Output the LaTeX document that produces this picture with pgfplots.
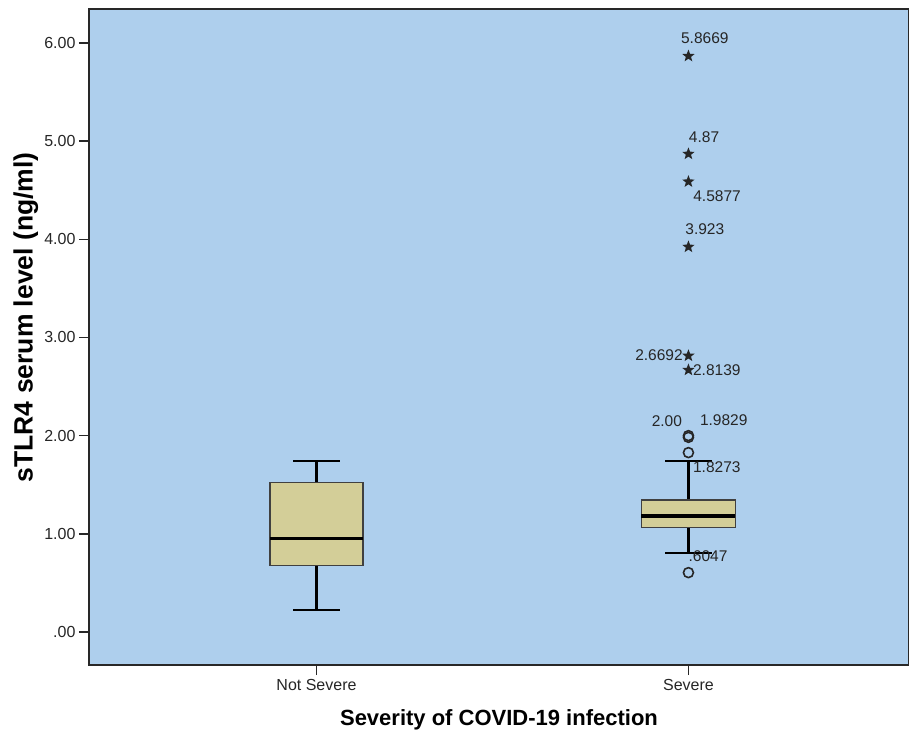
\documentclass[border=0pt]{standalone}
\usepackage{fontspec}
\setmainfont{Liberation Sans}
\usepackage{pgfplots}
\pgfplotsset{compat=1.18}
\usepgfplotslibrary{statistics}
\definecolor{bgblue}{RGB}{174,207,237}
\definecolor{boxfill}{RGB}{211,206,152}
\definecolor{frame}{RGB}{40,40,40}
\pgfdeclareplotmark{fstar}{%
  \pgfpathmoveto{\pgfqpointpolar{90}{\pgfplotmarksize}}%
  \pgfpathlineto{\pgfqpointpolar{126}{0.42\pgfplotmarksize}}%
  \pgfpathlineto{\pgfqpointpolar{162}{\pgfplotmarksize}}%
  \pgfpathlineto{\pgfqpointpolar{198}{0.42\pgfplotmarksize}}%
  \pgfpathlineto{\pgfqpointpolar{234}{\pgfplotmarksize}}%
  \pgfpathlineto{\pgfqpointpolar{270}{0.42\pgfplotmarksize}}%
  \pgfpathlineto{\pgfqpointpolar{306}{\pgfplotmarksize}}%
  \pgfpathlineto{\pgfqpointpolar{342}{0.42\pgfplotmarksize}}%
  \pgfpathlineto{\pgfqpointpolar{18}{\pgfplotmarksize}}%
  \pgfpathlineto{\pgfqpointpolar{54}{0.42\pgfplotmarksize}}%
  \pgfpathclose
  \pgfusepathqfill}
\begin{document}
\begin{tikzpicture}
\useasboundingbox (-89bp,-71bp) rectangle (820bp,665bp);
\begin{axis}[
  at={(0,0)}, anchor=south west,
  scale only axis, width=820bp, height=656bp,
  xmin=0.3884, xmax=2.593, ymin=-0.3362, ymax=6.346,
  boxplot/draw direction=y,
  axis background/.style={fill=bgblue},
  axis line style={draw=frame, line width=1.3bp},
  xtick={1,2}, xticklabels={Not Severe,Severe},
  ytick={0,1,2,3,4,5,6},
  yticklabels={.00,1.00,2.00,3.00,4.00,5.00,6.00},
  xtick pos=bottom, ytick pos=left, tick align=outside,
  major tick length=10bp,
  tick style={draw=frame, line width=1.6bp},
  tick label style={font=\fontsize{16bp}{18bp}\selectfont, text=black!85},
  xticklabel style={yshift=-1bp},
  xlabel={Severity of COVID-19 infection},
  ylabel={sTLR4 serum level (ng/ml)},
  xlabel style={font=\bfseries\fontsize{22bp}{24bp}\selectfont, at={(axis description cs:0.5,-0.0838)}, anchor=center},
  ylabel style={font=\bfseries\fontsize{26.5bp}{28bp}\selectfont, at={(axis description cs:-0.077,0.53)}, anchor=center},
  clip=false,
]
\addplot[boxplot prepared={draw position=1, median=0.955, upper quartile=1.525, lower quartile=0.675, upper whisker=1.742, lower whisker=0.221, box extend=0.25, whisker extend=0.126,
  every box/.style={draw=black!75, fill=boxfill, line width=1.5bp},
  every whisker/.style={draw=black, line width=2.2bp},
  every median/.style={draw=black, line width=3.4bp}}] coordinates {};
\addplot[boxplot prepared={draw position=2, median=1.18, upper quartile=1.345, lower quartile=1.066, upper whisker=1.742, lower whisker=0.805, box extend=0.253, whisker extend=0.126,
  every box/.style={draw=black!75, fill=boxfill, line width=1.5bp},
  every whisker/.style={draw=black, line width=2.2bp},
  every median/.style={draw=black, line width=3.4bp}}] coordinates {};
\addplot[only marks, mark=o, mark size=5bp, draw=black!85, line width=1.6bp] coordinates {(2,2.00) (2,1.9829) (2,1.8273) (2,0.6047)};
\addplot[only marks, mark=fstar, mark size=6.5bp, fill=black!85, draw=none] coordinates {(2,5.8669) (2,4.87) (2,4.5877) (2,3.923) (2,2.8139) (2,2.6692)};
\begin{scope}[every node/.style={font=\fontsize{15.5bp}{17bp}\selectfont, text=black!85, inner sep=0pt}]
\node[anchor=center] at (axis cs:2.044,6.048) {5.8669};
\node[anchor=center] at (axis cs:2.042,5.045) {4.87};
\node[anchor=center] at (axis cs:2.077,4.441) {4.5877};
\node[anchor=center] at (axis cs:2.044,4.102) {3.923};
\node[anchor=east] at (axis cs:1.985,2.815) {2.6692};
\node[anchor=west] at (axis cs:2.012,2.662) {2.8139};
\node[anchor=center] at (axis cs:1.942,2.152) {2.00};
\node[anchor=center] at (axis cs:2.095,2.16) {1.9829};
\node[anchor=west] at (axis cs:2.012,1.674) {1.8273};
\node[anchor=west] at (axis cs:2.0,0.774) {.6047};
\end{scope}
\end{axis}
\end{tikzpicture}
\end{document}
